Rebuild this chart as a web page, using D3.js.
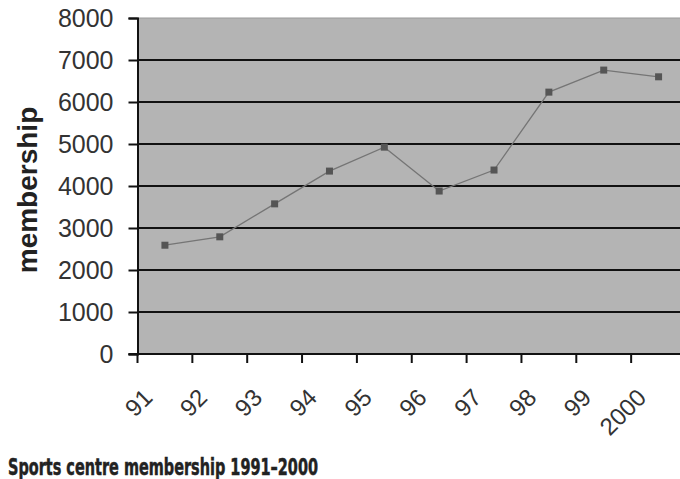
<!DOCTYPE html>
<html><head><meta charset="utf-8">
<script src="https://cdn.jsdelivr.net/npm/d3@7"></script>
<style>body{margin:0;background:#fff}svg{display:block}</style>
</head><body>
<svg id="c" width="680" height="479"></svg>
<script>
const categories = ["91","92","93","94","95","96","97","98","99","2000"];
const membership = [2590, 2790, 3575, 4355, 4925, 3880, 4380, 6235, 6760, 6600];
const yTicks = [0,1000,2000,3000,4000,5000,6000,7000,8000];
const yLabel = "membership";
const caption = "Sports centre membership 1991\u20132000";

(function(){
const svg = d3.select("#c");
const pL = 137.5, pR = 686, pT = 18, pB = 354;
const x = d3.scaleBand().domain(categories).range([pL, pR]);
const y = d3.scaleLinear().domain([0, 8000]).range([pB, pT]);

svg.append("rect").attr("x", pL).attr("y", pT).attr("width", pR-pL).attr("height", pB-pT)
  .attr("fill", "#b4b4b4").attr("stroke", "#9a9a9a").attr("stroke-width", 1);

svg.append("g").selectAll("line").data(yTicks.filter(d => d > 0 && d < 8000)).join("line")
  .attr("x1", pL).attr("x2", pR).attr("y1", d => y(d)).attr("y2", d => y(d))
  .attr("stroke", "#111").attr("stroke-width", 2);

const yAxis = svg.append("g").attr("transform", `translate(${pL},0)`)
  .call(d3.axisLeft(y).tickValues(yTicks).tickSize(9).tickPadding(15).tickFormat(d3.format("d")));
yAxis.select(".domain").attr("stroke", "#111").attr("stroke-width", 2);
yAxis.selectAll(".tick line").attr("stroke", "#111").attr("stroke-width", 2);
yAxis.selectAll("text").attr("font-family", "Liberation Sans, Arial, sans-serif").attr("font-size", 25).attr("fill", "#333");

const xAxisG = svg.append("g");
xAxisG.append("line").attr("x1", pL - 9).attr("x2", pR).attr("y1", pB).attr("y2", pB)
  .attr("stroke", "#111").attr("stroke-width", 2);
xAxisG.selectAll("line.t").data(categories).join("line").attr("class", "t")
  .attr("x1", d => x(d)).attr("x2", d => x(d)).attr("y1", pB).attr("y2", pB + 9)
  .attr("stroke", "#111").attr("stroke-width", 2);
xAxisG.selectAll("text").data(categories).join("text")
  .attr("transform", d => `translate(${x(d) + x.bandwidth()/2 - 11},${pB + 45}) rotate(-45)`)
  .attr("text-anchor", "end")
  .attr("font-family", "Liberation Sans, Arial, sans-serif").attr("font-size", 24).attr("fill", "#333")
  .text(d => d);

const line = d3.line().x((d, i) => x(categories[i]) + x.bandwidth()/2).y(d => y(d));
svg.append("path").datum(membership).attr("d", line).attr("fill", "none")
  .attr("stroke", "#757575").attr("stroke-width", 1.3);
svg.append("g").selectAll("rect").data(membership).join("rect")
  .attr("x", (d, i) => x(categories[i]) + x.bandwidth()/2 - 3.5).attr("y", d => y(d) - 3.5)
  .attr("width", 7).attr("height", 7).attr("fill", "#555");

svg.append("text").attr("transform", "translate(37,190) rotate(-90)").attr("text-anchor", "middle")
  .attr("font-family", "Liberation Sans, Arial, sans-serif").attr("font-weight", "bold").attr("font-size", 28)
  .attr("fill", "#222").text(yLabel);

svg.append("text").attr("x", 8).attr("y", 475)
  .attr("font-family", "Liberation Sans Narrow, DejaVu Sans Condensed, sans-serif").attr("font-weight", "bold")
  .attr("font-size", 23).attr("fill", "#222").attr("stroke", "#222").attr("stroke-width", 0.5)
  .attr("textLength", 310).attr("lengthAdjust", "spacingAndGlyphs").text(caption);
})();
</script>
</body></html>
